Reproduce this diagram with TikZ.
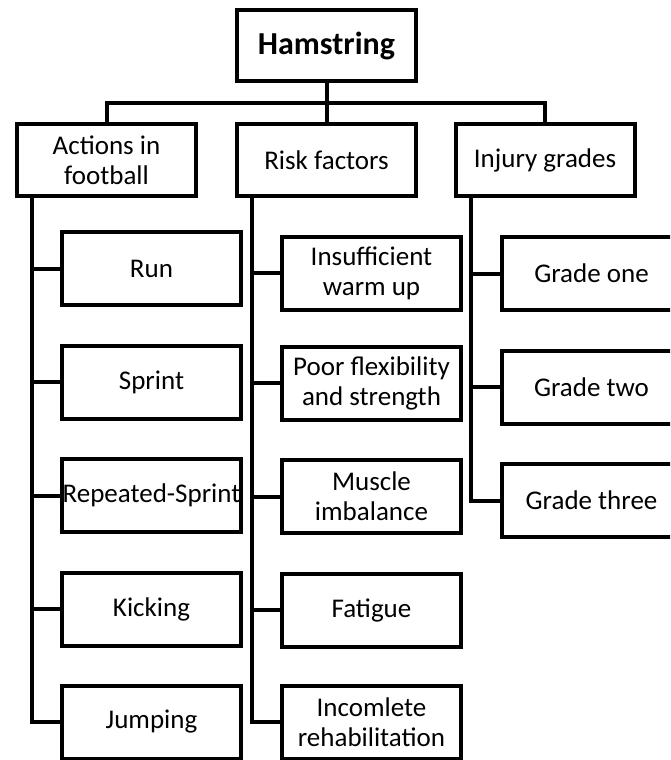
\documentclass[tikz,border=0pt]{standalone}
\usepackage{fontspec}
\setmainfont{Carlito}

\tikzset{
	box/.style={draw, line width=4pt, minimum width=179pt, minimum height=73pt,
		inner sep=1pt, align=center, font=\fontsize{27}{30}\selectfont},
	link/.style={line width=4pt},
}

\begin{document}
\begin{tikzpicture}[x=1pt,y=1pt]
	\useasboundingbox (0,0) rectangle (670,-760);
	\clip (0,0) rectangle (670,-760);

	% top level
	\node[box, minimum height=71pt, font=\fontsize{32}{35}\selectfont\bfseries] (ham) at (326.5,-45.5) {Hamstring};
	\node[box, minimum height=72pt] (act)  at (106.5,-160) {Actions in\\football};
	\node[box, minimum height=72pt] (risk) at (326.5,-160) {Risk factors};
	\node[box, minimum height=72pt] (inj)  at (545,-160) {Injury grades};
	\coordinate (bar) at (326.5,-103);

	\draw[link] (ham) -- (risk);
	\draw[link] (act.north) |- (bar) -| (inj.north);

	% actions in football
	\node[box] (run)    at (151.5,-268.5) {Run};
	\node[box] (sprint) at (151.5,-382)   {Sprint};
	\node[box] (rep)    at (151.5,-495.5) {Repeated-Sprint};
	\node[box] (kick)   at (151.5,-609)   {Kicking};
	\node[box] (jump)   at (151.5,-722)   {Jumping};

	% risk factors
	\node[box] (warm)  at (371.5,-273)   {Insufficient\\warm up};
	\node[box] (flex)  at (371.5,-383)   {Poor flexibility\\and strength};
	\node[box] (imb)   at (371.5,-496.5) {Muscle\\imbalance};
	\node[box] (fat)   at (371.5,-610)   {Fatigue};
	\node[box] (rehab) at (371.5,-722)   {Incomlete\\rehabilitation};

	% injury grades
	\node[box] (one)   at (591.5,-273.5) {Grade one};
	\node[box] (two)   at (591.5,-387)   {Grade two};
	\node[box] (three) at (591.5,-500.5) {Grade three};

	\foreach \c in {run,sprint,rep,kick,jump}
		\draw[link] ([xshift=17pt]act.south west) |- (\c.west);
	\foreach \c in {warm,flex,imb,fat,rehab}
		\draw[link] ([xshift=17pt]risk.south west) |- (\c.west);
	\foreach \c in {one,two,three}
		\draw[link] ([xshift=17pt]inj.south west) |- (\c.west);

\end{tikzpicture}
\end{document}
